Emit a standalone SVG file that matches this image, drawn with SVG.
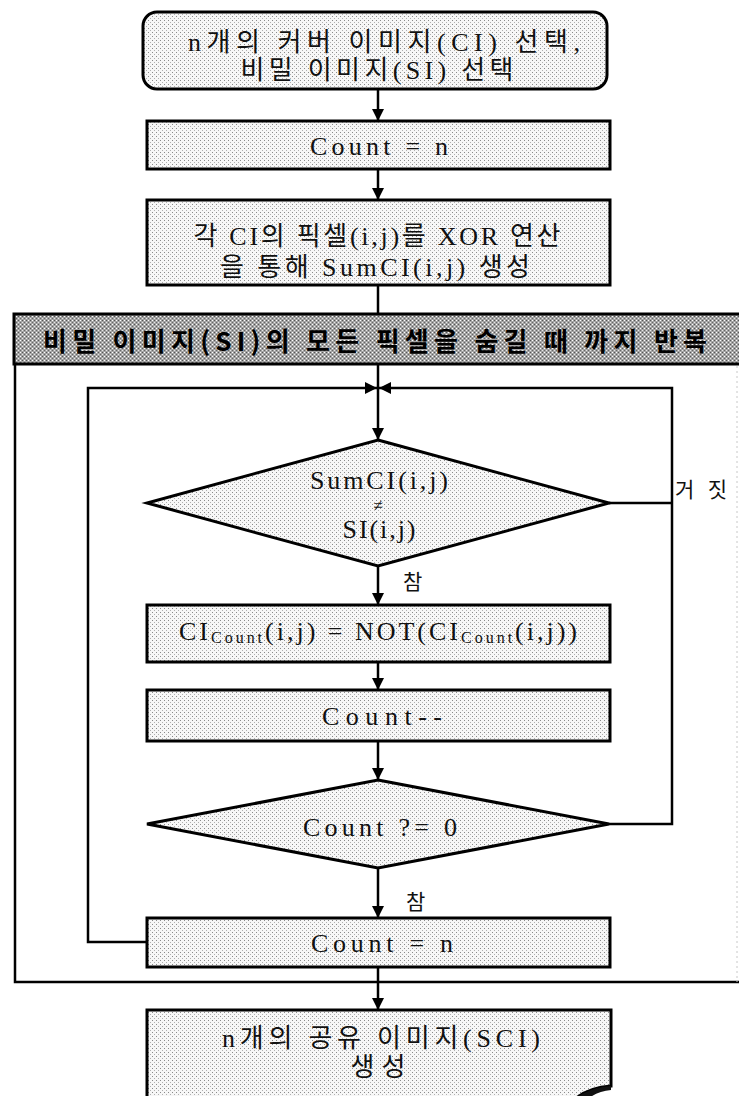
<svg xmlns="http://www.w3.org/2000/svg" width="739" height="1096" viewBox="0 0 739 1096">
<defs>
<pattern id="stip" width="4" height="4" patternUnits="userSpaceOnUse">
<rect width="4" height="4" fill="#f7f7f7"/>
<rect x="0" y="0" width="1" height="1" fill="#8a8a8a"/>
<rect x="2" y="2" width="1" height="1" fill="#b0b0b0"/>
</pattern>
<pattern id="darkstip" width="4" height="4" patternUnits="userSpaceOnUse">
<rect width="4" height="4" fill="#a4a4a4"/>
<rect x="0" y="0" width="1" height="1" fill="#ffffff"/>
<rect x="2" y="2" width="1" height="1" fill="#e8e8e8"/>
<rect x="2" y="0" width="1" height="1" fill="#555"/>
<rect x="0" y="2" width="1" height="1" fill="#666"/>
</pattern>
<marker id="ah" markerUnits="userSpaceOnUse" markerWidth="14" markerHeight="14" refX="12" refY="6" orient="auto">
<path d="M0,0 L12,6 L0,12 Z" fill="#000"/>
</marker>
<style>
.box{fill:url(#stip);stroke:#000;stroke-width:3}
.hdr{fill:url(#darkstip);stroke:#000;stroke-width:3}
.ln{fill:none;stroke:#000;stroke-width:2.5}
.arr{fill:none;stroke:#000;stroke-width:2.5;marker-end:url(#ah)}
.t{font-family:'Liberation Serif','Noto Sans CJK KR',serif;font-size:26px;fill:#111;text-anchor:middle;dominant-baseline:central}
.k{font-family:'Noto Sans CJK KR','Liberation Serif',sans-serif;font-size:21px;fill:#111;dominant-baseline:central}
.h{font-family:'Noto Sans CJK KR','Liberation Sans',sans-serif;font-size:26px;font-weight:bold;fill:#000;text-anchor:middle;dominant-baseline:central}
.sub{font-size:16px}
</style>
</defs>

<g id="connectors">
<path class="arr" d="M378,89 V121"/>
<path class="arr" d="M378,169 V200"/>
<path class="ln" d="M378,285 V314"/>
<path class="arr" d="M378,364 V440"/>
<path class="arr" d="M147,942 H88 V388 H377"/>
<path class="arr" d="M609,824 H672 V388 H379"/>
<path class="ln" d="M609,503 H672"/>
<path class="arr" d="M378,566 V605"/>
<path class="arr" d="M378,662 V690"/>
<path class="arr" d="M378,741 V780"/>
<path class="arr" d="M378,868 V918"/>
<path class="arr" d="M378,967 V1010"/>
</g>

<g id="loop-frame">
<path class="ln" d="M15,364 V982 H739"/>
<path d="M737,366 V982" fill="none" stroke="#c8c8c8" stroke-width="1" stroke-dasharray="2 3"/>
</g>

<g id="n1">
<rect class="box" x="143" y="12" width="464" height="77" rx="14" ry="14"/>
<text class="t" x="384" y="42" textLength="392" lengthAdjust="spacing">n개의 커버 이미지(CI) 선택,</text>
<text class="t" x="377" y="70" textLength="273" lengthAdjust="spacing">비밀 이미지(SI) 선택</text>
</g>

<g id="n2">
<rect class="box" x="147" y="121" width="463" height="48"/>
<text class="t" x="379" y="146" textLength="138" lengthAdjust="spacing">Count = n</text>
</g>

<g id="n3">
<rect class="box" x="147" y="200" width="463" height="85"/>
<text class="t" x="377" y="236" textLength="367" lengthAdjust="spacing">각 CI의 픽셀(i,j)를 XOR 연산</text>
<text class="t" x="375" y="267" textLength="310" lengthAdjust="spacing">을 통해 SumCI(i,j) 생성</text>
</g>

<g id="loop-header">
<rect class="hdr" x="14" y="314" width="730" height="50"/>
<text class="h" x="375" y="339" textLength="664" lengthAdjust="spacing">비밀 이미지(SI)의 모든 픽셀을 숨길 때 까지 반복</text>
</g>

<g id="d1">
<polygon class="box" points="378,440 609,503 378,566 147,503"/>
<text class="t" x="379" y="480" textLength="138" lengthAdjust="spacing">SumCI(i,j)</text>
<text class="t" x="378" y="505" style="font-size:17px">≠</text>
<text class="t" x="379" y="529" textLength="73" lengthAdjust="spacing">SI(i,j)</text>
</g>
<text class="k" x="675" y="488" textLength="52" lengthAdjust="spacing">거짓</text>
<text class="k" x="403" y="580">참</text>

<g id="n4">
<rect class="box" x="147" y="605" width="463" height="57"/>
<text class="t" x="378" y="631" textLength="398" lengthAdjust="spacing">CI<tspan class="sub" dy="6">Count</tspan><tspan dy="-6">(i,j) = NOT(CI</tspan><tspan class="sub" dy="6">Count</tspan><tspan dy="-6">(i,j))</tspan></text>
</g>

<g id="n5">
<rect class="box" x="147" y="690" width="463" height="51"/>
<text class="t" x="382" y="716" textLength="120" lengthAdjust="spacing">Count--</text>
</g>

<g id="d2">
<polygon class="box" points="378,780 609,824 378,868 147,824"/>
<text class="t" x="380" y="827" textLength="154" lengthAdjust="spacing">Count ?= 0</text>
</g>
<text class="k" x="406" y="900">참</text>

<g id="n6">
<rect class="box" x="147" y="918" width="463" height="49"/>
<text class="t" x="382" y="943" textLength="142" lengthAdjust="spacing">Count = n</text>
</g>

<g id="n7">
<path class="box" d="M147,1010 H611 V1086 C598,1087 584,1091 574,1100 H147 Z"/>
<path d="M611,1086 V1090 C602,1091 592,1094 588,1100 H574 C584,1091 598,1087 611,1086 Z" fill="#111"/>
<text class="t" x="381" y="1038" textLength="318" lengthAdjust="spacing">n개의 공유 이미지(SCI)</text>
<text class="t" x="378" y="1067" textLength="55" lengthAdjust="spacing">생성</text>
</g>
</svg>
